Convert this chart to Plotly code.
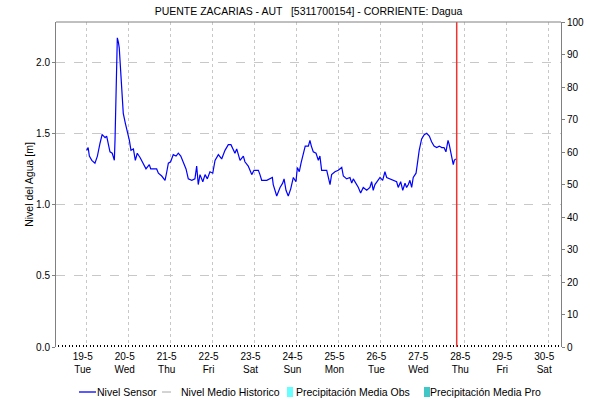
import pandas as pd
import plotly.graph_objects as go

# ---- data (hours after 2020-05-19 00:00, level in m) ----
base_date = "2020-05-19 00:00"
hours = [0, 0.8, 1.5, 2.9, 4.7, 6.1, 7.6, 8.8, 9.7, 10.5, 11.4, 12.4, 13.3, 14.6, 15.8,
         16.2, 16.8, 17.2, 17.5, 18.1, 18.6, 19.4, 20.2, 20.9, 22.1, 23.2, 24.4, 25.3,
         26.7, 27.8, 28.9, 30.5, 32.4, 33.9, 35.8, 36.6, 40.0, 41.0, 42.9, 44.8, 45.8,
         46.7, 48.0, 49.5, 51.1, 52.4, 53.8, 55.3, 56.8, 58.1, 60.1, 61.9, 62.9, 63.8,
         64.8, 66.4, 67.7, 69.0, 70.5, 72.1, 73.4, 75.3, 77.2, 79.1, 81.0, 82.5, 83.9,
         84.8, 85.8, 87.7, 89.6, 90.5, 92.4, 94.4, 95.7, 98.2, 99.1, 100.1, 103.0,
         104.8, 106.2, 106.7, 108.7, 110.6, 112.1, 112.9, 114.0, 115.3, 116.7, 118.2,
         119.7, 120.5, 121.6, 122.6, 123.9, 125.0, 126.8, 127.7, 128.5, 129.6, 131.2,
         132.5, 133.4, 134.4, 137.3, 138.2, 139.2, 140.1, 142.0, 143.9, 145.9, 146.8,
         148.7, 150.6, 151.6, 152.5, 153.5, 155.4, 156.7, 158.2, 160.2, 162.0, 163.0,
         163.9, 164.9, 166.2, 167.8, 169.3, 170.6, 171.6, 173.5, 175.4, 177.3, 178.2,
         179.6, 180.8, 182.1, 183.0, 184.0, 184.9, 185.9, 186.8, 188.4, 189.1, 190.2,
         191.6, 193.1, 194.5, 196.0, 197.3, 198.7, 200.2, 201.7, 203.1, 204.4, 205.5,
         206.7, 207.4, 208.2, 208.9, 209.7, 210.3, 211.1]
nivel_sensor = [1.38, 1.40, 1.34, 1.31, 1.29, 1.34, 1.43, 1.49, 1.48, 1.47, 1.48, 1.43,
                1.37, 1.36, 1.31, 1.46, 1.76, 2.03, 2.17, 2.14, 2.10, 1.94, 1.76, 1.64,
                1.57, 1.52, 1.45, 1.38, 1.39, 1.31, 1.36, 1.33, 1.29, 1.25, 1.28, 1.25,
                1.25, 1.22, 1.20, 1.17, 1.23, 1.29, 1.30, 1.35, 1.34, 1.36, 1.34, 1.29,
                1.25, 1.18, 1.17, 1.18, 1.27, 1.14, 1.21, 1.16, 1.21, 1.18, 1.23, 1.22,
                1.31, 1.35, 1.32, 1.38, 1.42, 1.42, 1.38, 1.36, 1.39, 1.31, 1.34, 1.30,
                1.27, 1.21, 1.24, 1.24, 1.21, 1.17, 1.17, 1.18, 1.19, 1.14, 1.06, 1.12,
                1.15, 1.18, 1.10, 1.06, 1.11, 1.19, 1.16, 1.26, 1.23, 1.29, 1.35, 1.41,
                1.41, 1.45, 1.41, 1.37, 1.36, 1.31, 1.34, 1.24, 1.24, 1.19, 1.14, 1.21,
                1.23, 1.24, 1.26, 1.20, 1.18, 1.19, 1.15, 1.18, 1.16, 1.12, 1.08, 1.12,
                1.10, 1.12, 1.16, 1.10, 1.14, 1.16, 1.19, 1.17, 1.23, 1.19, 1.18, 1.17,
                1.16, 1.12, 1.16, 1.10, 1.15, 1.12, 1.14, 1.17, 1.12, 1.19, 1.22, 1.28,
                1.38, 1.46, 1.49, 1.50, 1.48, 1.44, 1.41, 1.40, 1.41, 1.40, 1.40, 1.37,
                1.45, 1.42, 1.37, 1.32, 1.28, 1.31, 1.32]
nivel_medio_historico = []
precip_obs = []
precip_pro = []
now_marker = "2020-05-27 19:40"

tick_dates = pd.date_range("2020-05-19", "2020-05-30", freq="D")
tick_text = [f"{d.day}-{d.month}<br>{d.strftime('%a')}" for d in tick_dates]
x_range = ["2020-05-18 06:25", "2020-05-30 07:20"]
y_range = [0, 2.281]
y2_range = [0, 100]

times = pd.to_datetime(base_date) + pd.to_timedelta(hours, unit="h")

FONT = "Liberation Sans, Arial, sans-serif"
fig = go.Figure()
fig.add_trace(go.Scatter(x=times, y=nivel_sensor, mode="lines", name="Nivel Sensor",
                         line=dict(color="#0000ff", width=1.2)))
fig.add_trace(go.Scatter(x=times[:len(nivel_medio_historico)], y=nivel_medio_historico,
                         mode="lines", name="Nivel Medio Historico",
                         line=dict(color="#a8a8a8", width=1, dash="dash")))
fig.add_trace(go.Bar(x=times[:len(precip_obs)], y=precip_obs, name="Precipitación Media Obs",
                     marker_color="#66ffff", yaxis="y2"))
fig.add_trace(go.Bar(x=times[:len(precip_pro)], y=precip_pro, name="Precipitación Media Pro",
                     marker_color="#40c8c8", yaxis="y2"))

W, H = 590, 402
PL, PR, PT, PB = 56, 561, 22, 347  # plot area edges in pixels
L, T, R, B = PL, PT, W - PR, H - PB
pw, ph = PR - PL, PB - PT
def px(x):
    return (x - PL) / pw
def py(y):
    return (PB - y) / ph

shapes = [
    dict(type="line", xref="x", yref="paper", x0=now_marker, x1=now_marker, y0=0, y1=1,
         line=dict(color="#ee3333", width=1.5)),
    dict(type="line", xref="paper", yref="paper", x0=0, x1=1, y0=1, y1=1,
         line=dict(color="#808080", width=1)),
    # legend symbols
    dict(type="line", xref="paper", yref="paper", x0=px(79), x1=px(96), y0=py(392), y1=py(392),
         line=dict(color="#0000ff", width=1.3)),
    dict(type="line", xref="paper", yref="paper", x0=px(162), x1=px(178), y0=py(392), y1=py(392),
         line=dict(color="#a8a8a8", width=1, dash="dash")),
    dict(type="rect", xref="paper", yref="paper", x0=px(287), x1=px(293), y0=py(397), y1=py(387),
         line=dict(width=0), fillcolor="#66ffff"),
    dict(type="rect", xref="paper", yref="paper", x0=px(424), x1=px(430), y0=py(397), y1=py(387),
         line=dict(width=0), fillcolor="#40c8c8"),
]
leg_font = dict(family=FONT, size=10.5, color="#000000")
annotations = [
    dict(text="Nivel Sensor", x=px(95), y=py(392)),
    dict(text="Nivel Medio Historico", x=px(179), y=py(392)),
    dict(text="Precipitación Media Obs", x=px(294), y=py(392)),
    dict(text="Precipitación Media Pro", x=px(428), y=py(392)),
]
for a in annotations:
    a.update(xref="paper", yref="paper", xanchor="left", yanchor="middle",
             showarrow=False, font=leg_font)
annotations.append(dict(text="Precipitación [mm]", xref="paper", yref="paper",
                        x=px(597), y=py(200), textangle=-90, showarrow=False,
                        xanchor="center", yanchor="middle", font=leg_font))

fig.update_layout(
    width=W, height=H,
    margin=dict(l=L, r=R, t=T, b=B, pad=0, autoexpand=False),
    paper_bgcolor="white", plot_bgcolor="white",
    showlegend=False,
    font=dict(family=FONT, size=10.5, color="#000000"),
    title=dict(text="PUENTE ZACARIAS - AUT   [5311700154] - CORRIENTE: Dagua",
               x=0.5, xref="paper", y=1 - 11 / H, yanchor="middle",
               font=dict(family=FONT, size=10.5, color="#000000")),
    xaxis=dict(type="date", range=x_range, tickmode="array", tickvals=tick_dates,
               ticktext=tick_text, showgrid=True, gridcolor="#c8c8c8", griddash="dot",
               gridwidth=1, showline=False, zeroline=False, ticks="", automargin=False,
               ticklabelshift=-4, ticklabelstandoff=2, tickfont=dict(size=10),
               minor=dict(dtick=7200000, ticks="inside", ticklen=2, tickcolor="#000000",
                          showgrid=False)),
    yaxis=dict(range=y_range, tickvals=[0, 0.5, 1.0, 1.5, 2.0], tickformat=".1f",
               showgrid=True, gridcolor="#c8c8c8", griddash="dash", gridwidth=1,
               showline=True, linecolor="#808080", linewidth=1, zeroline=False,
               ticks="outside", ticklen=3, tickcolor="#808080", tickfont=dict(size=10),
               automargin=False,
               title=dict(text="Nivel del Agua [m]", standoff=0,
                          font=dict(size=10.5))),
    yaxis2=dict(range=y2_range, overlaying="y", side="right", anchor="x",
                tickvals=list(range(0, 101, 10)), showgrid=False, automargin=False,
                showline=True, linecolor="#808080", linewidth=1, zeroline=False,
                ticks="outside", ticklen=3, tickcolor="#808080", tickfont=dict(size=10)),
    shapes=shapes,
    annotations=annotations,
)

fig.write_html("out.html", config={"displayModeBar": False},
               post_script="document.body.style.margin='0';document.body.style.overflow='hidden';")
